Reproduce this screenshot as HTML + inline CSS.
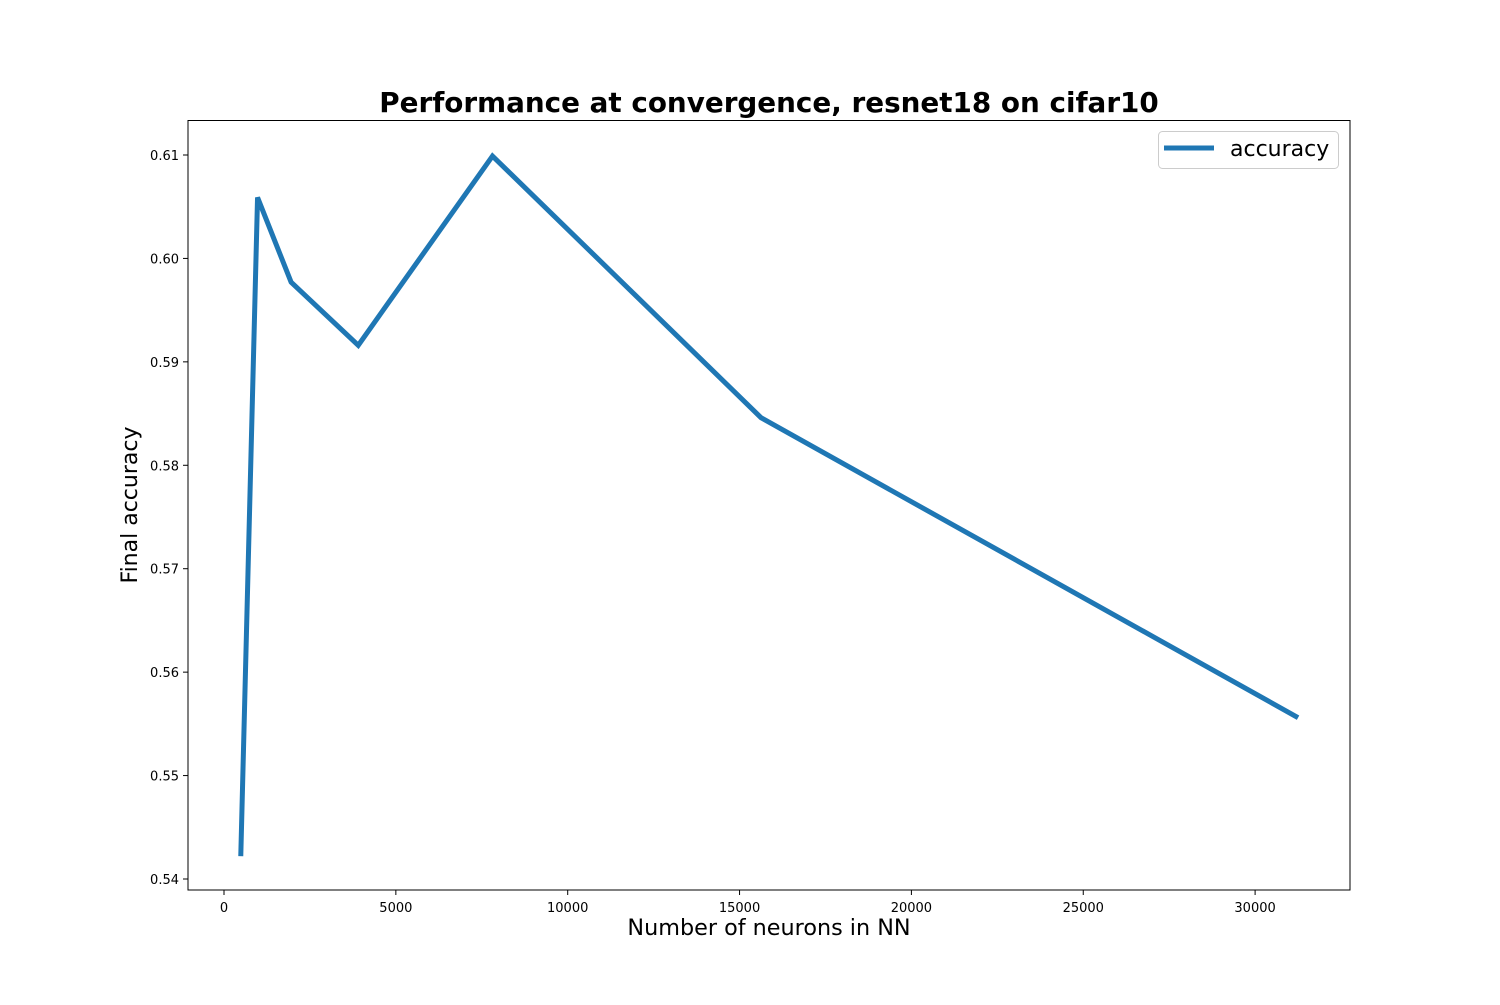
<!DOCTYPE html>
<html><head><meta charset="utf-8"><style>
body{margin:0;background:#fff}
text{font-family:"DejaVu Sans","Liberation Sans",sans-serif}
</style></head><body>
<svg id="chart" width="1500" height="1000" viewBox="0 0 1500 1000">
<rect width="1500" height="1000" fill="#fff"/>
<text x="769" y="112" text-anchor="middle" font-size="27.8" font-weight="bold">Performance at convergence, resnet18 on cifar10</text>
<g id="ticks"></g>
<g id="series"></g>
<rect x="188" y="120.5" width="1162" height="769.5" fill="none" stroke="#000" stroke-width="1"/>
<text x="769" y="935" text-anchor="middle" font-size="22.3">Number of neurons in NN</text>
<text transform="translate(137,505) rotate(-90)" text-anchor="middle" font-size="22">Final accuracy</text>
<g>
<rect x="1158.5" y="131.5" width="180" height="37" rx="4" fill="#fff" stroke="#ccc"/>
<line x1="1164" y1="148" x2="1214" y2="148" stroke="#1f77b4" stroke-width="5"/>
<text x="1230" y="156" font-size="22">accuracy</text>
</g>
</svg>
<script>
const xValues=[488,976,1953,3906,7812,15625,31250];
const accuracy=[0.5422,0.6059,0.5977,0.5916,0.6099,0.5846,0.5556];
const xTicks=[0,5000,10000,15000,20000,25000,30000];
const yTicks=[0.54,0.55,0.56,0.57,0.58,0.59,0.60,0.61];
const yTickLabels=["0.54","0.55","0.56","0.57","0.58","0.59","0.60","0.61"];
const sx=v=>224+v*0.03437;
const sy=v=>879-(v-0.54)*10343;
const NS="http://www.w3.org/2000/svg";
const tg=document.getElementById('ticks');
xTicks.forEach(t=>{
  const l=document.createElementNS(NS,'line');
  
  
  l.setAttribute('x1',sx(t));l.setAttribute('x2',sx(t));l.setAttribute('y1',890);l.setAttribute('y2',895);l.setAttribute('stroke','#000');
  tg.appendChild(l);
  const tx=document.createElementNS(NS,'text');
  
  
  tx.setAttribute('x',sx(t));tx.setAttribute('y',912);tx.setAttribute('text-anchor','middle');tx.setAttribute('font-size','13');
  tx.textContent=t;tg.appendChild(tx);
});
yTicks.forEach((t,i)=>{
  const l=document.createElementNS(NS,'line');
  
  
  l.setAttribute('x1',183);l.setAttribute('x2',188);l.setAttribute('y1',sy(t));l.setAttribute('y2',sy(t));l.setAttribute('stroke','#000');
  tg.appendChild(l);
  const tx=document.createElementNS(NS,'text');
  
  
  tx.setAttribute('x',179);tx.setAttribute('y',sy(t)+5);tx.setAttribute('text-anchor','end');tx.setAttribute('font-size','13');
  tx.textContent=yTickLabels[i];tg.appendChild(tx);
});
const p=document.createElementNS(NS,'polyline');


p.setAttribute('points',xValues.map((x,i)=>sx(x)+','+sy(accuracy[i])).join(' '));
p.setAttribute('fill','none');p.setAttribute('stroke','#1f77b4');p.setAttribute('stroke-width','5');
document.getElementById('series').appendChild(p);
</script>
</body></html>
